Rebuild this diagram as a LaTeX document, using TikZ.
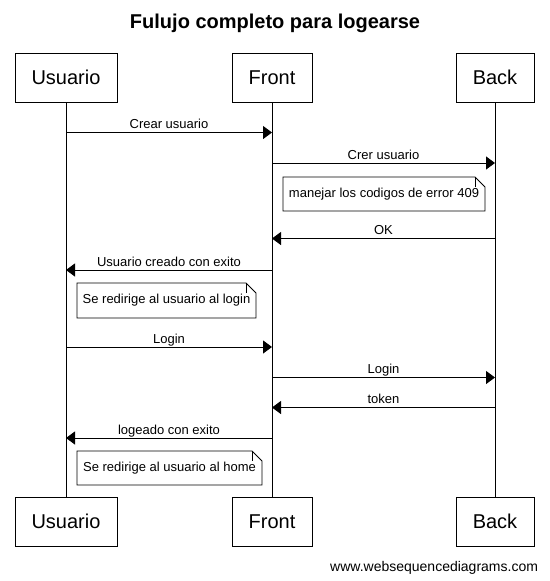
\documentclass[tikz,border=0pt]{standalone}
\usepackage{fontspec}
\setmainfont{Liberation Sans}
\usetikzlibrary{arrows.meta}
\begin{document}
\begin{tikzpicture}[x=1pt,y=-1pt,line width=1pt,
  actor/.style={draw,fill=white,minimum height=49pt,inner xsep=0pt,inner ysep=0pt,
    font=\fontsize{20}{24}\selectfont,text height=14.3pt,text depth=0pt},
  msg/.style={-{Triangle[length=9pt,width=13pt]}},
  lbl/.style={font=\fontsize{13}{15}\selectfont,anchor=base,inner sep=0pt},
  notebox/.style={anchor=north west,inner sep=0pt,minimum height=33pt,
    font=\fontsize{13}{15}\selectfont},
  notefold/.style={line width=0.8pt}
]
\useasboundingbox (0,0) rectangle (549,581);

% title
\node[font=\bfseries\fontsize{20}{24}\selectfont,anchor=base,inner sep=0pt] (title) at (275,28.5) {Fulujo completo para logearse};

% participants
\node[actor,minimum width=102pt] (Ut) at (66,77.5) {Usuario};
\node[actor,minimum width=80pt] (Ft) at (272,77.5) {Front};
\node[actor,minimum width=78pt] (Bt) at (495,77.5) {Back};
\node[actor,minimum width=102pt] (Ub) at (66,521.5) {Usuario};
\node[actor,minimum width=80pt] (Fb) at (272,521.5) {Front};
\node[actor,minimum width=78pt] (Bb) at (495,521.5) {Back};

% lifelines
\draw (Ut.south) -- (Ub.north);
\draw (Ft.south) -- (Fb.north);
\draw (Bt.south) -- (Bb.north);

% message end points
\coordinate (m1a) at (66,132.5);  \coordinate (m1b) at (272,132.5);
\coordinate (m2a) at (272,163);   \coordinate (m2b) at (495,163);
\coordinate (m3a) at (495,238.5); \coordinate (m3b) at (272,238.5);
\coordinate (m4a) at (272,270);   \coordinate (m4b) at (66,270);
\coordinate (m5a) at (66,347);    \coordinate (m5b) at (272,347);
\coordinate (m6a) at (272,377.5); \coordinate (m6b) at (495,377.5);
\coordinate (m7a) at (495,407.5); \coordinate (m7b) at (272,407.5);
\coordinate (m8a) at (272,438);   \coordinate (m8b) at (66,438);

\draw[msg] (m1a) -- (m1b);
\draw[msg] (m2a) -- (m2b);
\draw[msg] (m3a) -- (m3b);
\draw[msg] (m4a) -- (m4b);
\draw[msg] (m5a) -- (m5b);
\draw[msg] (m6a) -- (m6b);
\draw[msg] (m7a) -- (m7b);
\draw[msg] (m8a) -- (m8b);

\node[lbl] (l1) at (169,128.8) {Crear usuario};
\node[lbl] (l2) at (383.5,159) {Crer usuario};
\node[lbl] (l3) at (383.5,234.5) {OK};
\node[lbl] (l4) at (169,266) {Usuario creado con exito};
\node[lbl] (l5) at (169,343) {Login};
\node[lbl] (l6) at (383.5,373.5) {Login};
\node[lbl] (l7) at (383.5,403.5) {token};
\node[lbl] (l8) at (169,434) {logeado con exito};

% notes
\node[notebox,minimum width=201pt] (n1) at (283,177) {manejar los codigos de error 409};
\node[notebox,minimum width=178pt,minimum height=34pt] (n2) at (77,283) {Se redirige al usuario al login};
\node[notebox,minimum width=184pt] (n3) at (77,451) {Se redirige al usuario al home};
\foreach \n in {n1,n2,n3}{
  \draw[notefold] (\n.north west) -- ([xshift=-10pt]\n.north east) -- ([yshift=-10pt]\n.north east)
    -- (\n.south east) -- (\n.south west) -- cycle;
  \draw[notefold] ([xshift=-10pt]\n.north east) -- ([xshift=-10pt,yshift=-10pt]\n.north east);
}

% footer
\node[font=\fontsize{14}{16}\selectfont,anchor=base east,inner sep=0pt] (footer) at (538.5,571) {www.websequencediagrams.com};
\end{tikzpicture}
\end{document}
